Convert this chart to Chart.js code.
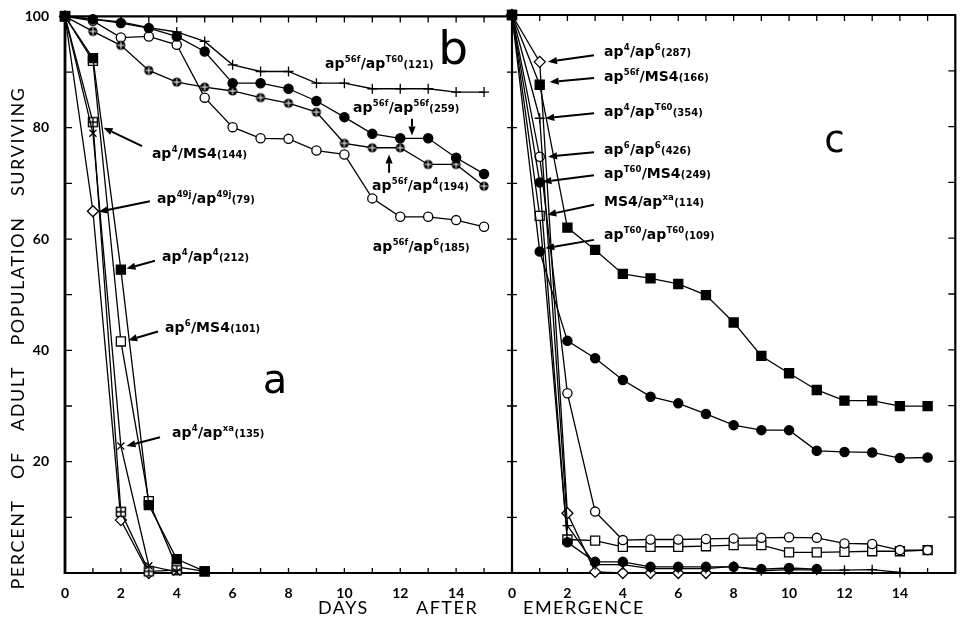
<!DOCTYPE html>
<html><head><meta charset="utf-8">
<script src="https://cdn.jsdelivr.net/npm/chart.js@4"></script>
<style>
html,body{margin:0;padding:0;background:#fff;width:963px;height:620px;overflow:hidden;position:relative}
canvas{position:absolute;top:0}
#c1{left:0}
#c2{left:500px}
</style></head><body>
<canvas id="c1" width="520" height="620" style="width:520px;height:620px"></canvas>
<canvas id="c2" width="463" height="620" style="width:463px;height:620px"></canvas>
<script>
// ---------- DATA ----------
const DAYS = [0,1,2,3,4,5,6,7,8,9,10,11,12,13,14,15];
const X_TICK_LABELS = ['0','2','4','6','8','10','12','14'];
const Y_TICK_LABELS = ['20','40','60','80','100'];

// panel a / b (left)
const b_ap56f_apT60 = [100, 99.5, 99, 98, 97.2, 95.5, 91.3, 90.1, 90.1, 88, 88, 87, 87, 87, 86.4, 86.4];
const b_ap56f_ap56f = [100, 99.5, 98.8, 97.9, 96.4, 93.7, 88, 88, 87, 84.8, 81.9, 78.9, 78.1, 78.1, 74.6, 71.7];
const b_ap56f_ap4   = [100, 97.3, 94.8, 90.3, 88.2, 87.3, 86.6, 85.4, 84.4, 82.8, 77.2, 76.4, 76.4, 73.4, 73.4, 69.5];
const b_ap56f_ap6   = [100, 99.2, 96.2, 96.4, 94.9, 85.4, 80.1, 78.1, 78, 75.9, 75.2, 67.3, 64, 64, 63.4, 62.2];
const a_ap4_MS4     = [100, 81, 11, 0.3, 0.5];
const a_ap49j_ap49j = [100, 65, 9.5, 0];
const a_ap4_ap4     = [100, 92.5, 54.5, 12.2, 2.5, 0.3];
const a_ap6_MS4     = [100, 92, 41.6, 12.9, 1.1, 0.3];
const a_ap4_apxa    = [100, 79, 22.8, 1.3, 0.2];

// panel c (right)
const c_ap4_ap6       = [100, 91.6, 10.7, 0.2, 0, 0, 0, 0];
const c_ap56f_MS4     = [100, 87.5, 61.9, 57.9, 53.6, 52.8, 51.8, 49.8, 44.9, 38.9, 35.8, 32.8, 30.9, 30.9, 29.9, 29.9];
const c_ap4_apT60     = [100, 81.5, 8.5, 1.5, 1.5, 0.8, 0.8, 0.8, 1.2, 0.4, 0.6, 0.5, 0.5, 0.6, 0.1];
const c_ap6_ap6       = [100, 74.6, 32.2, 11, 5.9, 6, 6, 6.1, 6.2, 6.3, 6.4, 6.3, 5.3, 5.2, 4.1, 4.1];
const c_apT60_MS4     = [100, 70, 5.5, 2, 2, 1.1, 1.1, 1.1, 1.1, 0.7, 0.9, 0.7];
const c_MS4_apxa      = [100, 64, 6, 5.8, 4.7, 4.7, 4.7, 4.8, 5, 5, 3.7, 3.7, 3.8, 3.9, 3.9, 4.1];
const c_apT60_apT60   = [100, 57.6, 41.6, 38.5, 34.6, 31.6, 30.4, 28.5, 26.5, 25.6, 25.6, 21.9, 21.7, 21.6, 20.6, 20.7];

// series labels (^{} = superscript, (...) = small count)
const LABELS_LEFT = ['ap^{56f}/ap^{T60}(121)','ap^{56f}/ap^{56f}(259)','ap^{56f}/ap^{4}(194)','ap^{56f}/ap^{6}(185)',
  'ap^{4}/MS4(144)','ap^{49j}/ap^{49j}(79)','ap^{4}/ap^{4}(212)','ap^{6}/MS4(101)','ap^{4}/ap^{xa}(135)'];
const LABELS_RIGHT = ['ap^{4}/ap^{6}(287)','ap^{56f}/MS4(166)','ap^{4}/ap^{T60}(354)','ap^{6}/ap^{6}(426)',
  'ap^{T60}/MS4(249)','MS4/ap^{xa}(114)','ap^{T60}/ap^{T60}(109)'];
const PANEL_LETTERS = ['a','b','c'];
const Y_TITLE = 'PERCENT OF ADULT POPULATION SURVIVING';
const X_TITLE = ['DAYS','AFTER','EMERGENCE'];

// label placement, in axis units (day, percent): [textX, textY, arrowFromX, arrowFromY, arrowToX, arrowToY]
const POS_LEFT = [
  [9.31, 91.4, null],
  [10.31, 83.5, 12.42, 81.6, 12.42, 78.6],
  [10.99, 69.5, 11.6, 71.9, 11.6, 75.2],
  [11.02, 58.5, null],
  [3.11, 75.3, 2.76, 76.7, 1.38, 80.0],
  [3.29, 67.2, 3.04, 66.8, 1.2, 64.9],
  [3.47, 56.8, 3.22, 56.1, 2.2, 54.7],
  [3.58, 44.1, 3.33, 43.4, 2.26, 41.8],
  [3.83, 25.1, 3.4, 24.4, 2.2, 22.8]
];
const POS_RIGHT = [
  [3.32, 93.4, 2.96, 92.8, 1.3, 91.6],
  [3.32, 88.8, 2.96, 88.7, 1.36, 88.0],
  [3.32, 82.6, 2.96, 82.4, 1.2, 81.5],
  [3.32, 75.8, 2.96, 75.4, 1.3, 74.6],
  [3.32, 71.5, 2.96, 71.3, 1.1, 70.1],
  [3.32, 66.4, 2.96, 66.0, 1.27, 64.2],
  [3.32, 60.6, 2.96, 59.7, 1.2, 58.2]
];

// ---------- custom markers ----------
function markCircleCross(){
  const c=document.createElement('canvas'); c.width=12; c.height=12; const g=c.getContext('2d');
  g.beginPath(); g.arc(6,6,4.6,0,Math.PI*2); g.fillStyle='#000'; g.fill();
  g.strokeStyle='#fff'; g.lineWidth=1; g.beginPath(); g.moveTo(6,2.5); g.lineTo(6,9.5); g.moveTo(2.5,6); g.lineTo(9.5,6); g.stroke();
  return c;
}
function markSquareCross(){
  const c=document.createElement('canvas'); c.width=12; c.height=12; const g=c.getContext('2d');
  g.fillStyle='#fff'; g.fillRect(1.5,1.5,9,9);
  g.strokeStyle='#000'; g.lineWidth=1.4; g.strokeRect(1.5,1.5,9,9);
  g.beginPath(); g.moveTo(6,1.5); g.lineTo(6,10.5); g.moveTo(1.5,6); g.lineTo(10.5,6); g.stroke();
  return c;
}
const MK_CC = markCircleCross(), MK_SC = markSquareCross();

function pts(vals){ return vals.map((v,i)=>({x:DAYS[i], y:v})); }
function ds(vals, style, fill, r){
  return {data:pts(vals), borderColor:'#000', borderWidth:1.3, tension:0, clip:false,
    pointStyle:style, pointRadius:r, pointBackgroundColor:fill, pointBorderColor:'#000', pointBorderWidth:1.3};
}

// ---------- drawing helpers ----------
const LBL_FONT = '"DejaVu Sans"';
function parseRich(s){
  const out=[]; let i=0, buf='', mode='b';
  while(i<s.length){
    const ch=s[i];
    if(ch==='^' && s[i+1]==='{'){ if(buf) out.push([buf,mode]); buf=''; const j=s.indexOf('}',i); out.push([s.slice(i+2,j),'s']); i=j+1; continue; }
    if(ch==='('){ if(buf) out.push([buf,mode]); buf='('; mode='n'; i++; continue; }
    buf+=ch; i++;
  }
  if(buf) out.push([buf,mode]);
  return out;
}
function drawRich(ctx, x, yc, s){
  const base=14, yb=yc+4;
  ctx.textBaseline='alphabetic'; ctx.textAlign='left'; ctx.fillStyle='#000';
  for(const [t,m] of parseRich(s)){
    let f, yy=yb;
    if(m==='b') f='bold '+base+'px '+LBL_FONT;
    else if(m==='s'){ f='bold 8.5px '+LBL_FONT; yy=yb-6; }
    else f='bold 10px '+LBL_FONT;
    ctx.font=f; ctx.fillText(t,x,yy); x+=ctx.measureText(t).width+0.3;
  }
}
function arrow(ctx,x1,y1,x2,y2){
  const a=Math.atan2(y2-y1,x2-x1), L=9, W=3.6;
  const bx=x2-L*Math.cos(a), by=y2-L*Math.sin(a);
  ctx.strokeStyle='#000'; ctx.lineWidth=2; ctx.beginPath(); ctx.moveTo(x1,y1); ctx.lineTo(bx,by); ctx.stroke();
  ctx.fillStyle='#000'; ctx.beginPath(); ctx.moveTo(x2,y2);
  ctx.lineTo(bx+W*Math.sin(a), by-W*Math.cos(a)); ctx.lineTo(bx-W*Math.sin(a), by+W*Math.cos(a)); ctx.closePath(); ctx.fill();
}

function framePlugin(side){
  return {id:'frame'+side, beforeDatasetsDraw(chart){
    const {ctx, chartArea:a, scales:{x,y}}=chart;
    ctx.save(); ctx.strokeStyle='#000';
    ctx.lineWidth=2.2; ctx.beginPath();
    ctx.moveTo(a.left-1,a.top); ctx.lineTo(a.right+1,a.top);
    ctx.moveTo(a.left-1,a.bottom); ctx.lineTo(a.right+1,a.bottom);
    ctx.moveTo(a.right,a.top); ctx.lineTo(a.right,a.bottom);
    ctx.stroke();
    if(side==='L'){ ctx.lineWidth=2.8; ctx.beginPath(); ctx.moveTo(a.left,a.top-1); ctx.lineTo(a.left,a.bottom+1); ctx.stroke(); }
    ctx.lineWidth=1.3; ctx.beginPath();
    for(let d=1; d<16; d++){ const px=x.getPixelForValue(d);
      ctx.moveTo(px,a.top); ctx.lineTo(px,a.top+6);
      ctx.moveTo(px,a.bottom); ctx.lineTo(px,a.bottom-5); }
    for(let v=10; v<100; v+=10){ const py=y.getPixelForValue(v);
      if(side==='L'){ ctx.moveTo(a.left,py); ctx.lineTo(a.left+7,py); ctx.moveTo(a.right-5,py); ctx.lineTo(a.right+5,py); }
      else { ctx.moveTo(a.right,py); ctx.lineTo(a.right-7,py); }
    }
    ctx.stroke(); ctx.restore();
  }};
}

function annotPlugin(labels, pos, extra){
  return {id:'annot', afterDatasetsDraw(chart){
    const {ctx, scales:{x,y}}=chart;
    ctx.save();
    labels.forEach((s,i)=>{
      const p=pos[i];
      drawRich(ctx, x.getPixelForValue(p[0]), y.getPixelForValue(p[1]), s);
      if(p[2]!=null) arrow(ctx, x.getPixelForValue(p[2]), y.getPixelForValue(p[3]), x.getPixelForValue(p[4]), y.getPixelForValue(p[5]));
    });
    extra(chart, ctx);
    ctx.restore();
  }};
}

function bigLetter(ctx, x, y, t, size){
  ctx.font=size+'px "DejaVu Sans"'; ctx.fillStyle='#000'; ctx.textAlign='center'; ctx.textBaseline='alphabetic';
  ctx.fillText(t,x,y);
}
function titleWord(ctx, t, x, y){
  ctx.font='18px Lato'; ctx.letterSpacing='1.5px'; ctx.fillStyle='#000'; ctx.textAlign='left'; ctx.textBaseline='alphabetic';
  ctx.fillText(t,x,y); ctx.letterSpacing='0px';
}

function baseOptions(padLeft, padRight, showY){
  return {
    responsive:false, animation:false, devicePixelRatio:1,
    layout:{padding:{left:padLeft, right:padRight, top:15, bottom:0}},
    plugins:{legend:{display:false}, tooltip:{enabled:false}},
    scales:{
      x:{type:'linear', min:0, max:16, grid:{display:false}, border:{display:false},
        ticks:{stepSize:2, autoSkip:false, maxRotation:0, padding:4, color:'#000',
          font:{family:'Lato', weight:'bold', size:14},
          callback:(v)=> X_TICK_LABELS.includes(String(v)) ? String(v) : ''},
        afterFit:(s)=>{ s.height=47; s.paddingLeft=0; s.paddingRight=0; }},
      y:{display:showY, min:0, max:100, grid:{display:false}, border:{display:false},
        ticks:{stepSize:20, padding:8, color:'#000', font:{family:'Lato', weight:'bold', size:14},
          callback:(v)=> Y_TICK_LABELS.includes(String(v)) ? String(v) : ''},
        afterFit:(s)=>{ s.width = showY ? 65 : 0; }}
    }
  };
}

// ---------- left chart (panels a, b) ----------
new Chart(document.getElementById('c1'), {
  type:'line',
  data:{datasets:[
    ds(b_ap56f_apT60,'cross','#000',5),
    ds(b_ap56f_ap56f,'circle','#000',4.6),
    ds(b_ap56f_ap4, MK_CC,'#000',5),
    ds(b_ap56f_ap6,'circle','#fff',4.6),
    ds(a_ap4_apxa,'crossRot','#000',5),
    ds(a_ap4_MS4, MK_SC,'#fff',5),
    ds(a_ap49j_ap49j,'rectRot','#fff',5.5),
    ds(a_ap4_ap4,'rect','#000',6.4),
    ds(a_ap6_MS4,'rect','#fff',6.4)
  ]},
  options: baseOptions(0, 8, true),
  plugins:[framePlugin('L'), annotPlugin(LABELS_LEFT, POS_LEFT, (chart,ctx)=>{
    const {scales:{x,y}}=chart;
    bigLetter(ctx, x.getPixelForValue(13.89), y.getPixelForValue(91.4), PANEL_LETTERS[1], 47);
    bigLetter(ctx, x.getPixelForValue(7.52), y.getPixelForValue(32.4), PANEL_LETTERS[0], 40);
    titleWord(ctx, X_TITLE[0], 318, 614);
    titleWord(ctx, X_TITLE[1], 416, 614);
    ctx.save(); ctx.translate(24, 338); ctx.rotate(-Math.PI/2);
    ctx.font='18px Lato'; ctx.letterSpacing='1.6px'; ctx.wordSpacing='14px';
    ctx.textAlign='center'; ctx.textBaseline='alphabetic'; ctx.fillStyle='#000';
    ctx.fillText(Y_TITLE, 0, 0); ctx.restore();
  })]
});

// ---------- right chart (panel c) ----------
new Chart(document.getElementById('c2'), {
  type:'line',
  data:{datasets:[
    ds(c_ap4_apT60,'cross','#000',5),
    ds(c_apT60_MS4,'circle','#000',4.6),
    ds(c_apT60_apT60,'circle','#000',4.6),
    ds(c_ap6_ap6,'circle','#fff',4.6),
    ds(c_MS4_apxa,'rect','#fff',6.4),
    ds(c_ap56f_MS4,'rect','#000',6.4),
    ds(c_ap4_ap6,'rectRot','#fff',5.5)
  ]},
  options: baseOptions(12, 3, false),
  plugins:[framePlugin('R'), annotPlugin(LABELS_RIGHT, POS_RIGHT, (chart,ctx)=>{
    const {chartArea:a, scales:{x,y}}=chart;
    bigLetter(ctx, x.getPixelForValue(11.64), y.getPixelForValue(75.4), PANEL_LETTERS[2], 37);
    titleWord(ctx, X_TITLE[2], a.left+11, 614);
  })]
});
</script>
</body></html>
